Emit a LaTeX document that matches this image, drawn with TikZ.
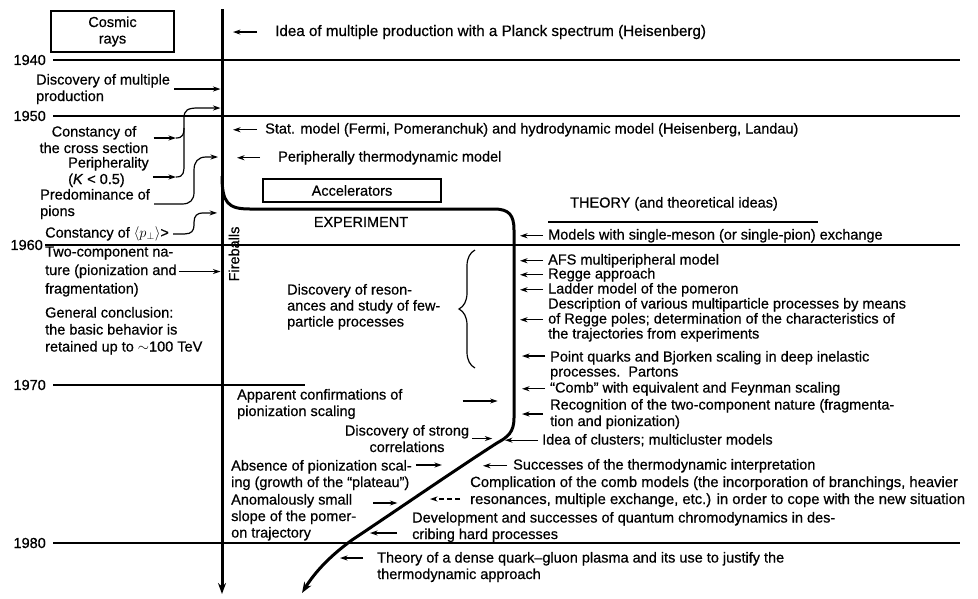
\documentclass[tikz,border=0pt]{standalone}
\usepackage{fontspec}
\setmainfont{Liberation Sans}[FakeBold=0.6]
\usetikzlibrary{arrows.meta,positioning,decorations.pathreplacing}
\newcommand{\notefont}{\fontsize{14.5}{16.5}\selectfont}
\newcommand{\tightfont}{\fontsize{14.5}{15}\selectfont}
\tikzset{
  note/.style={anchor=base west, align=left, inner sep=0pt, font=\notefont},
  notec/.style={note, anchor=base, align=center},
  year/.style={anchor=east, inner sep=0pt, font=\notefont},
  yearline/.style={line width=1.3pt},
  era/.style={draw, line width=1.3pt, align=center, inner sep=0pt, font=\notefont},
  timeaxis/.style={line width=3pt, -{Stealth[length=11pt,width=8pt]}},
  ptr/.style={line width=1.2pt, -{Stealth[length=7.5pt,width=5pt]}},
  feed/.style={line width=1.2pt},
  wing/.style={decorate, decoration={brace, amplitude=16pt}, line width=1.2pt}
}
\begin{document}
\begin{tikzpicture}[x=1pt,y=-1pt]
  \useasboundingbox (0,0) rectangle (978,598);

  % decades
  \node[year] (y40) at (46,60) {1940};
  \node[year] (y50) at (46,116) {1950};
  \node[year] (y60) at (43,245) {1960};
  \node[year] (y70) at (46,385) {1970};
  \node[year] (y80) at (46,543) {1980};
  \draw[yearline] ([xshift=7pt]y40.east) -- (960,60);
  \draw[yearline] ([xshift=7pt]y50.east) -- (960,116);
  \draw[yearline] ([xshift=2pt]y60.east) -- (960,245);
  \draw[yearline] ([xshift=7pt]y70.east) -- (305,385);
  \draw[yearline] ([xshift=7pt]y80.east) -- (960,543);

  % time axis and the experiment branch
  \coordinate (axtop) at (222,9);
  \coordinate (axend) at (222,594);
  \draw[timeaxis] (axtop) -- (axend);
  \draw[timeaxis] (222,176) .. controls (222,203) and (228,209) .. (250,209)
    -- (494,209) .. controls (509,209) and (514,215) .. (514,230)
    -- (514,418) .. controls (514,432) and (508,437) .. (497,443)
    .. controls (455,470) and (400,508) .. (352,540)
    .. controls (330,556) and (315,572) .. (302,593);

  \node[era, minimum width=123pt, minimum height=41pt] (cosmic) at (112.5,31.5) {Cosmic\\rays};
  \node[era, minimum width=178pt, minimum height=23pt] (accel) at (352,190.5) {Accelerators};
  \node[inner sep=0pt, font=\notefont] (expt) at (361,222) {EXPERIMENT};
  \node[inner sep=0pt, font=\notefont, rotate=90] (fireb) at (234,254) {Fireballs};
  \node[note] (theory) at (570,207.5) {THEORY (and theoretical ideas)};
  \draw[feed] (548,222) -- (818,222);

  % experiment, cosmic rays
  \node[note] (disc) at (36,101) {Discovery of multiple\\production};
  \node[notec] (cross) at (94,153) {Constancy of\\the cross section};
  \node[note] (periph) at (68,184) {Peripherality\\(\textit{K} < 0.5)};
  \node[note] (predom) at (40,216) {Predominance of\\pions};
  \node[note] (pperp) at (45,237.5) {Constancy of $\langle p_{\perp}\rangle$>};
  \node[note, font=\fontsize{14.5}{18.5}\selectfont] (twocomp) at (45,293.5) {Two-component na-\\ture (pionization and\\fragmentation)};
  \node[note, font=\fontsize{14.5}{17}\selectfont] (general) at (45,351.5) {General conclusion:\\the basic behavior is\\retained up to $\sim$100 TeV};

  % experiment, accelerators
  \node[note, font=\fontsize{14.5}{16}\selectfont] (reson) at (287,326.5) {Discovery of reson-\\ances and study of few-\\particle processes};
  \draw[wing] (475,368) -- (475,250);
  \node[note] (apparent) at (237,416) {Apparent confirmations of\\pionization scaling};
  \node[notec] (strong) at (407,452) {Discovery of strong\\correlations};
  \node[note] (absence) at (231,487) {Absence of pionization scal-\\ing (growth of the “plateau”)};
  \node[note] (anom) at (231,537.5) {Anomalously small\\slope of the pomer-\\on trajectory};

  % theory
  \node[note, font=\fontsize{15.2}{17}\selectfont] (idea) at (275,36) {Idea of multiple production with a Planck spectrum (Heisenberg)};
  \node[note] (stat) at (265,133.5) {Stat. model (Fermi, Pomeranchuk) and hydrodynamic model (Heisenberg, Landau)};
  \node[note] (periphth) at (278,161.5) {Peripherally thermodynamic model};
  \node[note] (models) at (548,239.5) {Models with single-meson (or single-pion) exchange};
  \node[note] (afs) at (548,264.5) {AFS multiperipheral model};
  \node[note] (regge) at (548,278.5) {Regge approach};
  \node[note] (ladder) at (548,293.5) {Ladder model of the pomeron};
  \node[note, font=\tightfont] (descr) at (548,338.5) {Description of various multiparticle processes by means\\of Regge poles; determination of the characteristics of\\the trajectories from experiments};
  \node[note, font=\tightfont] (point) at (550,376.5) {Point quarks and Bjorken scaling in deep inelastic\\processes.\ \ Partons};
  \node[note] (comb) at (550,392.5) {“Comb” with equivalent and Feynman scaling};
  \node[note] (recog) at (550,426) {Recognition of the two-component nature (fragmenta-\\tion and pionization)};
  \node[note] (clusters) at (542,444.5) {Idea of clusters; multicluster models};
  \node[note] (success) at (513,469.5) {Successes of the thermodynamic interpretation};
  \node[note, font=\fontsize{14.8}{17}\selectfont] (compl) at (470,504) {Complication of the comb models (the incorporation of branchings, heavier\\resonances, multiple exchange, etc.) in order to cope with the new situation};
  \node[note] (develop) at (412,539) {Development and successes of quantum chromodynamics in des-\\cribing hard processes};
  \node[note] (plasma) at (377,579) {Theory of a dense quark--gluon plasma and its use to justify the\\thermodynamic approach};

  % pointers into the axis
  \draw[ptr, shorten >=1.5pt] ([xshift=4pt]disc.east) -- (disc.east -| axtop);
  \coordinate (cj) at (176,138);
  \coordinate (pj) at (176,177);
  \draw[ptr] (cross.east |- cj) ++(5,0) -- (cj);
  \draw[ptr] (periph.east |- pj) ++(4,0) -- (pj);
  \draw[ptr] (pj) .. controls (184,177) and (184,172) .. (184,164) -- (184,118)
    .. controls (184,110) and (188,108) .. (198,108) -- (220.5,108);
  \draw[feed] (cj) .. controls (183,138) and (184,134) .. (184,128);
  \draw[ptr] ([xshift=4pt]predom.east) -- ++(28,0) .. controls +(8,0) and +(0,8) .. ++(12,-12)
    -- ++(0,-22) .. controls +(0,-8) and +(-8,0) .. ++(12,-13) -- ++(12,0);
  \draw[ptr] ([xshift=4pt]pperp.east) -- ++(12,0) .. controls +(6,0) and +(0,6) .. ++(9,-9)
    -- ++(0,-3) .. controls +(0,-6) and +(-6,0) .. ++(9,-9) -- ++(14,0);
  \draw[ptr, shorten >=1.5pt] ([xshift=2pt]twocomp.east) -- (twocomp.east -| axtop);
  \draw[ptr] ([xshift=-18pt]idea.west) -- ++(-24,0);
  \draw[ptr] ([xshift=-8pt]stat.west) -- ++(-24,0);
  \draw[ptr] ([xshift=-18pt]periphth.west) -- ++(-23,0);

  % pointers into the experiment branch
  \draw[ptr] ([xshift=60pt,yshift=3pt]apparent.east) -- ++(35,0);
  \draw[ptr] ([xshift=3pt]strong.east) -- ++(20,0);
  \draw[ptr] ([xshift=4pt,yshift=22pt]absence.base east) -- ++(26,0);
  \draw[ptr] ([xshift=17pt,yshift=34.5pt]anom.base east) -- ++(24,0);

  % theory pointers
  \foreach \n in {models,afs,regge,ladder,descr,comb}
    \draw[ptr] ([xshift=-5pt]\n.west) -- ++(-23,0);
  \draw[ptr] ([xshift=-5pt,yshift=20.5pt]point.base west) -- ++(-23,0);
  \draw[ptr] ([xshift=-7pt]recog.west) -- ++(-21,0);
  \draw[ptr] ([xshift=-4pt]clusters.west) -- ++(-33,0);
  \draw[ptr] ([xshift=-6pt]success.west) -- ++(-24,0);
  \draw[ptr, dash pattern=on 5pt off 3pt] ([xshift=-10pt,yshift=5pt]compl.base west) -- ++(-30,0);
  \draw[ptr] ([xshift=-15pt,yshift=6pt]develop.base west) -- ++(-27,0);
  \draw[ptr] ([xshift=-14pt,yshift=21pt]plasma.base west) -- ++(-23,0);
\end{tikzpicture}
\end{document}
